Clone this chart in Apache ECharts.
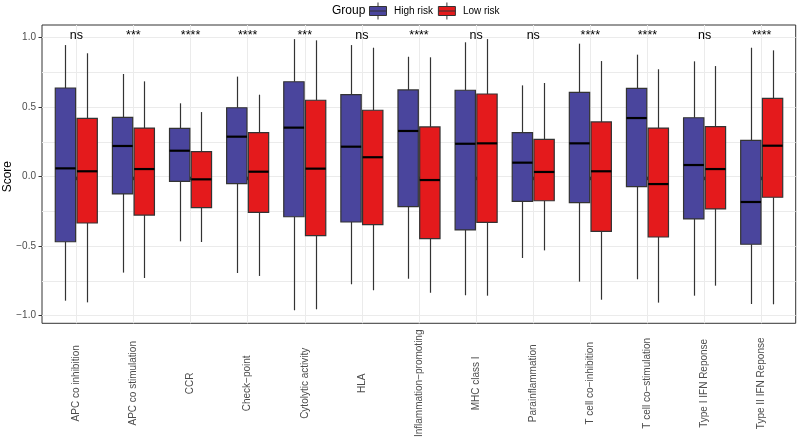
<!DOCTYPE html>
<html>
<head>
<meta charset="utf-8">
<style>
  html, body { margin: 0; padding: 0; background: #ffffff; }
  #chart { width: 798px; height: 439px; }
</style>
<script src="https://cdn.jsdelivr.net/npm/echarts@6/dist/echarts.min.js"></script>
</head>
<body>
<div id="chart"></div>
<script>
const categories = [
  "APC co inhibition",
  "APC co stimulation",
  "CCR",
  "Check\u2212point",
  "Cytolytic activity",
  "HLA",
  "Inflammation\u2212promoting",
  "MHC class I",
  "Parainflammation",
  "T cell co\u2212inhibition",
  "T cell co\u2212stimulation",
  "Type I IFN Reponse",
  "Type II IFN Reponse",
];

const groups = ["High risk", "Low risk"];
const sigLabels = ["ns", "***", "****", "****", "***", "ns", "****", "ns", "ns", "****", "****", "ns", "****"];

// high risk box stats
const highLower = [-0.892, -0.69, -0.465, -0.693, -0.961, -0.774, -0.734, -0.853, -0.585, -0.755, -0.738, -0.856, -0.916];
const highQ1 = [-0.468, -0.124, -0.033, -0.05, -0.288, -0.326, -0.216, -0.383, -0.177, -0.187, -0.072, -0.304, -0.486];
const highMedian = [0.06, 0.221, 0.187, 0.288, 0.353, 0.216, 0.329, 0.237, 0.101, 0.24, 0.422, 0.084, -0.182];
const highQ3 = [0.638, 0.427, 0.348, 0.496, 0.683, 0.59, 0.624, 0.622, 0.317, 0.607, 0.636, 0.424, 0.262];
const highUpper = [0.947, 0.739, 0.528, 0.72, 0.99, 0.947, 0.863, 0.967, 0.657, 0.957, 0.878, 0.83, 0.928];

// low risk box stats
const lowLower = [-0.904, -0.729, -0.47, -0.714, -0.954, -0.817, -0.835, -0.856, -0.53, -0.885, -0.906, -0.784, -0.918];
const lowQ1 = [-0.333, -0.276, -0.223, -0.256, -0.424, -0.345, -0.446, -0.328, -0.173, -0.393, -0.434, -0.232, -0.148];
const lowMedian = [0.039, 0.055, -0.019, 0.036, 0.058, 0.14, -0.024, 0.24, 0.034, 0.039, -0.053, 0.055, 0.223];
const lowQ3 = [0.42, 0.35, 0.18, 0.317, 0.55, 0.478, 0.358, 0.595, 0.269, 0.394, 0.35, 0.36, 0.564];
const lowUpper = [0.888, 0.686, 0.465, 0.59, 0.981, 0.928, 0.859, 0.99, 0.674, 0.832, 0.773, 0.796, 0.909];

const FONT = "'Liberation Sans', Arial, Helvetica, sans-serif";
const HIGH_COLOR = "#4a459d";
const LOW_COLOR = "#e41a1c";
const LINE_COLOR = "#333333";
const GRID_COLOR = "#ebebeb";

// panel edges in data units (ggplot expands the range a little)
const PANEL_MIN = -1.0547;
const PANEL_MAX = 1.0914;
const SIG_Y = 0.972;

const legendIcon = "path://M0,4 H17 V13 H0 Z M0,8.5 H17 M8.5,0 V4 M8.5,13 V17";

function boxRows(lower, q1, median, q3, upper) {
  return categories.map((name, i) => [i, lower[i], q1[i], median[i], q3[i], upper[i]]);
}

function formatTick(value) {
  return value.toFixed(1).replace("-", "\u2212");
}

function makeBoxRenderer(offset, fill) {
  return function (params, api) {
    const idx = api.value(0);
    const band = api.coord([1, 0])[0] - api.coord([0, 0])[0];
    const center = api.coord([idx, 0])[0] + offset * band;
    const half = 0.178 * band;
    const yLow = api.coord([idx, api.value(1)])[1];
    const yQ1 = api.coord([idx, api.value(2)])[1];
    const yMed = api.coord([idx, api.value(3)])[1];
    const yQ3 = api.coord([idx, api.value(4)])[1];
    const yHigh = api.coord([idx, api.value(5)])[1];
    const cx = Math.round(center) + 0.5;
    return {
      type: "group",
      children: [
        {
          type: "line",
          shape: { x1: cx, y1: yHigh, x2: cx, y2: yQ3 },
          style: { stroke: LINE_COLOR, lineWidth: 1.2 },
        },
        {
          type: "line",
          shape: { x1: cx, y1: yQ1, x2: cx, y2: yLow },
          style: { stroke: LINE_COLOR, lineWidth: 1.2 },
        },
        {
          type: "rect",
          shape: { x: center - half, y: yQ3, width: half * 2, height: yQ1 - yQ3 },
          style: { fill: fill, stroke: LINE_COLOR, lineWidth: 1.2 },
        },
        {
          type: "line",
          shape: { x1: center - half, y1: yMed, x2: center + half, y2: yMed },
          style: { stroke: "#000000", lineWidth: 2.2 },
        },
      ],
    };
  };
}

function renderSig(params, api) {
  const idx = api.value(0);
  const pt = api.coord([idx, api.value(1)]);
  return {
    type: "text",
    x: pt[0],
    y: pt[1],
    style: {
      text: sigLabels[idx],
      fill: "#000000",
      fontFamily: FONT,
      fontSize: 12.5,
      align: "center",
      verticalAlign: "bottom",
    },
  };
}

const chart = echarts.init(document.querySelector("#chart"), null, { renderer: "canvas" });

chart.setOption({
  animation: false,
  backgroundColor: "#ffffff",
  textStyle: { fontFamily: FONT },
  title: {
    text: "Group",
    left: 332,
    top: 5,
    padding: 0,
    textStyle: { fontFamily: FONT, fontSize: 12, fontWeight: "normal", color: "#000000" },
  },
  legend: {
    left: 369,
    top: 2,
    padding: 0,
    itemWidth: 22,
    itemHeight: 17,
    itemGap: 5,
    textStyle: { fontFamily: FONT, fontSize: 10, color: "#000000" },
    data: [
      {
        name: groups[0],
        icon: legendIcon,
        itemStyle: { color: HIGH_COLOR, borderColor: LINE_COLOR, borderWidth: 1 },
      },
      {
        name: groups[1],
        icon: legendIcon,
        itemStyle: { color: LOW_COLOR, borderColor: LINE_COLOR, borderWidth: 1 },
      },
    ],
  },
  grid: [
    // panel border
    { left: 42, right: 2.3, top: 25, bottom: 115.7, outerBoundsMode: "none", containLabel: false, show: true, borderColor: LINE_COLOR, borderWidth: 1, backgroundColor: "transparent" },
    // y scale from -1 to 1 for ticks and horizontal grid
    { left: 42, right: 2.3, top: 37.7, bottom: 123.3, outerBoundsMode: "none", containLabel: false },
    // data area: category centres from first to last
    { left: 76.3, right: 36.3, top: 25, bottom: 115.7, outerBoundsMode: "none", containLabel: false },
  ],
  xAxis: [
    { gridIndex: 0, type: "value", show: false },
    { gridIndex: 1, type: "value", show: false },
    {
      gridIndex: 2,
      type: "category",
      boundaryGap: false,
      data: categories,
      axisLine: { show: false },
      axisTick: { show: true, length: 3.5, lineStyle: { color: LINE_COLOR } },
      splitLine: { show: true, lineStyle: { color: GRID_COLOR, width: 1 } },
      axisLabel: {
        interval: 0,
        rotate: 90,
        align: "center",
        verticalAlign: "middle",
        margin: 60,
        fontFamily: FONT,
        fontSize: 10,
        color: "#4d4d4d",
      },
    },
  ],
  yAxis: [
    { gridIndex: 0, type: "value", show: false },
    {
      gridIndex: 1,
      type: "value",
      min: -1,
      max: 1,
      interval: 0.5,
      name: "Score",
      nameLocation: "middle",
      nameGap: 28,
      nameMoveOverlap: false,
      nameTextStyle: { fontFamily: FONT, fontSize: 12, color: "#000000" },
      axisLine: { show: false },
      axisTick: { show: true, length: 3.5, lineStyle: { color: LINE_COLOR } },
      axisLabel: { margin: 6, fontFamily: FONT, fontSize: 10, color: "#4d4d4d", formatter: formatTick },
      splitLine: { show: true, lineStyle: { color: GRID_COLOR, width: 1 } },
      minorTick: { show: false, splitNumber: 2 },
      minorSplitLine: { show: true, lineStyle: { color: GRID_COLOR, width: 1 } },
    },
    {
      gridIndex: 2,
      type: "value",
      min: PANEL_MIN,
      max: PANEL_MAX,
      show: false,
      splitLine: { show: false },
    },
  ],
  series: [
    {
      name: groups[0],
      type: "custom",
      xAxisIndex: 2,
      yAxisIndex: 2,
      itemStyle: { color: HIGH_COLOR },
      encode: { x: 0, y: [1, 2, 3, 4, 5] },
      renderItem: makeBoxRenderer(-0.19, HIGH_COLOR),
      data: boxRows(highLower, highQ1, highMedian, highQ3, highUpper),
      z: 3,
    },
    {
      name: groups[1],
      type: "custom",
      xAxisIndex: 2,
      yAxisIndex: 2,
      itemStyle: { color: LOW_COLOR },
      encode: { x: 0, y: [1, 2, 3, 4, 5] },
      renderItem: makeBoxRenderer(0.19, LOW_COLOR),
      data: boxRows(lowLower, lowQ1, lowMedian, lowQ3, lowUpper),
      z: 3,
    },
    {
      name: "signif",
      type: "custom",
      xAxisIndex: 2,
      yAxisIndex: 2,
      encode: { x: 0, y: 1 },
      renderItem: renderSig,
      data: sigLabels.map((label, i) => [i, SIG_Y]),
      z: 4,
    },
  ],
});
</script>
</body>
</html>
